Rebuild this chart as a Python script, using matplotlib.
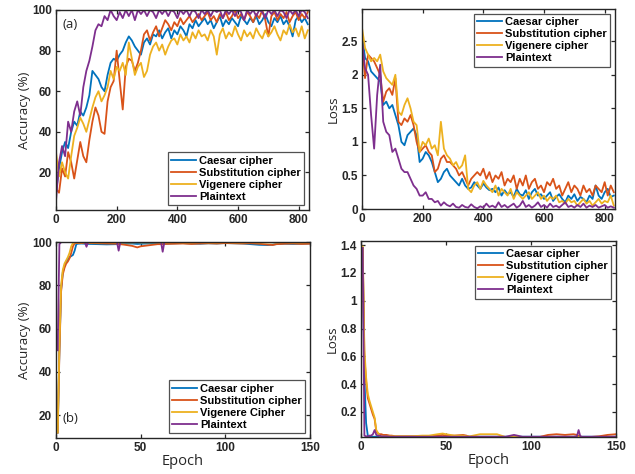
import numpy as np
import matplotlib
matplotlib.use("Agg")
import matplotlib.pyplot as plt
from matplotlib.ticker import FuncFormatter

# MATLAB default line colours
COLORS = ["#0072BD", "#D95319", "#EDB120", "#7E2F8E"]

# ---- (a) long training run, sampled every 10 epochs ----
epochs_a = list(range(0, 840, 10))

acc_caesar_a = [10, 22, 30, 35, 32, 40, 45, 43, 50, 48, 52, 58, 70, 68, 66, 62, 60, 68, 74, 76,
                75, 78, 80, 84, 87, 85, 82, 80, 78, 84, 86, 83, 88, 87, 90, 86, 89, 91, 86, 90,
                88, 92, 90, 87, 93, 91, 95, 92, 94, 96, 93, 95, 91, 94, 97, 92, 95, 93, 96, 94,
                92, 97, 95, 93, 96, 94, 97, 93, 95, 98, 94, 92, 96, 94, 97, 93, 95, 92, 87, 95,
                97, 94, 96, 93]
acc_subst_a = [12, 10, 22, 18, 30, 25, 17, 26, 35, 28, 25, 36, 45, 52, 48, 40, 39, 55, 62, 65,
               80, 65, 51, 72, 76, 75, 70, 74, 80, 88, 90, 85, 89, 92, 87, 91, 95, 93, 90, 94,
               92, 96, 93, 95, 97, 94, 96, 98, 95, 97, 99, 95, 97, 94, 98, 96, 99, 95, 97, 100,
               96, 98, 95, 99, 97, 94, 98, 96, 100, 95, 87, 97, 99, 95, 98, 96, 99, 94, 97, 99,
               95, 98, 96, 99]
acc_vig_a = [30, 18, 25, 20, 17, 28, 38, 42, 47, 44, 40, 46, 52, 57, 60, 55, 58, 62, 70, 66,
             72, 70, 74, 68, 84, 76, 68, 72, 74, 67, 70, 78, 82, 84, 80, 83, 78, 82, 85, 86,
             83, 88, 85, 87, 84, 89, 86, 90, 87, 88, 85, 90, 87, 78, 88, 91, 86, 89, 87, 92,
             88, 85, 90, 87, 89, 86, 91, 88, 86, 90, 87, 89, 92, 88, 85, 90, 88, 93, 89, 91,
             87, 92, 86, 90]
acc_plain_a = [6, 25, 33, 28, 45, 40, 50, 55, 48, 62, 70, 75, 82, 90, 93, 92, 97, 95, 100, 97,
               95, 99, 96, 100, 97, 100, 95, 100, 98, 100, 97, 100, 99, 96, 100, 98, 100, 97, 100, 99,
               96, 100, 98, 100, 97, 100, 99, 96, 100, 98, 100, 97, 100, 99, 100, 96, 100, 98, 100, 97,
               100, 99, 95, 100, 98, 100, 97, 100, 99, 96, 100, 98, 100, 97, 100, 99, 96, 100, 98, 100,
               97, 100, 99, 96]

loss_caesar_a = [2.6, 2.25, 2.2, 2.05, 2.0, 1.95, 1.9, 1.55, 1.6, 1.5, 1.55, 1.4, 1.25, 1.0, 0.95, 1.1,
                 1.15, 1.2, 1.1, 0.7, 0.75, 0.85, 0.8, 0.7, 0.55, 0.4, 0.45, 0.55, 0.6, 0.5, 0.45, 0.4,
                 0.35, 0.45, 0.35, 0.3, 0.32, 0.4, 0.35, 0.3, 0.38, 0.32, 0.28, 0.3, 0.25, 0.32, 0.2, 0.28,
                 0.22, 0.25, 0.18, 0.3, 0.22, 0.2, 0.28, 0.15, 0.25, 0.3, 0.2, 0.22, 0.15, 0.2, 0.25, 0.12,
                 0.18, 0.22, 0.15, 0.1, 0.2, 0.15, 0.22, 0.12, 0.18, 0.15, 0.1, 0.2, 0.15, 0.35, 0.2, 0.15,
                 0.25, 0.3, 0.18, 0.2]
loss_subst_a = [2.5, 1.95, 2.3, 2.25, 2.2, 2.1, 2.0, 1.6, 1.75, 1.8, 1.7, 1.95, 1.3, 1.25, 1.35, 1.3,
                1.4, 1.25, 1.0, 0.85, 0.9, 0.95, 0.85, 0.8, 0.55, 0.6, 0.75, 0.8, 0.7, 0.7, 0.65, 0.6,
                0.5, 0.55, 0.45, 0.35, 0.45, 0.5, 0.55, 0.5, 0.6, 0.45, 0.55, 0.4, 0.5, 0.45, 0.55, 0.35,
                0.45, 0.4, 0.5, 0.3, 0.45, 0.35, 0.5, 0.3, 0.4, 0.45, 0.3, 0.35, 0.25, 0.4, 0.35, 0.45,
                0.3, 0.35, 0.2, 0.3, 0.4, 0.25, 0.35, 0.3, 0.2, 0.35, 0.25, 0.3, 0.2, 0.35, 0.3, 0.25,
                0.4, 0.2, 0.35, 0.25]
loss_vig_a = [2.7, 2.4, 2.3, 2.2, 2.25, 2.2, 2.3, 2.05, 1.95, 1.9, 1.85, 2.0, 1.45, 1.4, 1.55, 1.65,
              1.5, 1.3, 1.25, 0.85, 1.0, 0.95, 1.05, 0.9, 0.95, 0.8, 1.3, 0.9, 0.8, 0.75, 0.65, 0.7,
              0.6, 0.65, 0.8, 0.3, 0.25, 0.35, 0.4, 0.3, 0.42, 0.35, 0.3, 0.25, 0.35, 0.2, 0.3, 0.25,
              0.2, 0.3, 0.15, 0.25, 0.2, 0.15, 0.2, 0.25, 0.15, 0.2, 0.25, 0.15, 0.2, 0.12, 0.18, 0.15,
              0.2, 0.1, 0.12, 0.08, 0.15, 0.1, 0.12, 0.05, 0.1, 0.15, 0.08, 0.12, 0.05, 0.1, 0.15, 0.08,
              0.12, 0.1, 0.2, 0.05]
loss_plain_a = [2.5, 2.1, 2.0, 1.4, 0.9, 1.7, 2.15, 1.3, 1.15, 1.1, 0.85, 0.9, 0.75, 0.6, 0.55, 0.55,
                0.45, 0.35, 0.3, 0.2, 0.2, 0.25, 0.15, 0.15, 0.1, 0.12, 0.05, 0.1, 0.06, 0.04, 0.08, 0.03,
                0.02, 0.06, 0.03, 0.02, 0.07, 0.03, 0.01, 0.04, 0.02, 0.08, 0.03, 0.05, 0.02, 0.1, 0.03, 0.06,
                0.02, 0.05, 0.08, 0.02, 0.05, 0.12, 0.03, 0.06, 0.02, 0.05, 0.1, 0.03, 0.06, 0.02, 0.08, 0.03,
                0.05, 0.02, 0.06, 0.1, 0.03, 0.05, 0.02, 0.06, 0.03, 0.08, 0.02, 0.05, 0.03, 0.06, 0.02, 0.04,
                0.06, 0.02, 0.04, 0.02]

# ---- (b) short training run ----
epochs_b = [1, 2, 3, 4, 5, 6, 7, 8, 9, 10, 11, 12, 13, 15, 17, 18, 19, 20, 25, 30,
            36, 37, 38, 40, 45, 48, 50, 55, 60, 62, 63, 64, 70, 75, 80, 85, 90, 95, 100, 105,
            110, 115, 120, 125, 127, 128, 129, 130, 135, 140, 145, 150]

acc_caesar_b = [12, 50, 78, 86, 89, 91, 92, 93, 93.5, 94, 96, 99, 99.2, 99.3, 99.2, 99.2, 99.1, 99.1, 99, 98.9,
                99, 99.1, 99.1, 99.2, 99.3, 99.1, 99.2, 99.3, 99.2, 99.1, 99.1, 99.2, 99.4, 99.5, 99.3, 99.2, 99.4, 99.3, 99.5, 99.4,
                99.3, 99, 98.7, 98.6, 98.7, 98.8, 98.9, 99, 99.2, 99.1, 99.2, 99.3]
acc_subst_b = [12, 48, 77, 85, 88, 90, 91, 92.5, 95, 98, 99.4, 99.5, 99.5, 99.5, 99.6, 99.6, 99.5, 99.5, 99.4, 99.3,
               99.2, 99, 99, 98.8, 98.2, 97.5, 98, 98.5, 99, 99, 99, 99.1, 99.2, 99.3, 99.1, 99.3, 99.4, 99.3, 99.5, 99.4,
               99.3, 99.4, 99.2, 98.8, 98.7, 98.6, 98.8, 99, 99.2, 99.3, 99.1, 99.2]
acc_vig_b = [12, 52, 80, 87, 90, 91.5, 93, 95, 98, 99.5, 99.8, 99.8, 99.8, 99.8, 99.9, 99.9, 99.8, 99.8, 99.8, 99.9,
             99.8, 99.8, 99.9, 99.8, 99.8, 99.9, 99.8, 99.8, 99.9, 99.8, 99.8, 99.8, 99.9, 99.8, 99.8, 99.9, 99.8, 99.8, 99.9, 99.8,
             99.8, 99.9, 99.8, 99.8, 99.8, 99.9, 99.8, 99.8, 99.9, 99.8, 99.8, 99.9]
acc_plain_b = [50, 99, 99.9, 100, 100, 100, 100, 100, 100, 100, 100, 100, 100, 100, 100, 97.8, 100, 100, 100, 100,
               100, 96, 100, 100, 100, 100, 100, 100, 100, 100, 95.5, 100, 100, 100, 100, 100, 100, 100, 100, 100,
               100, 100, 100, 100, 100, 100, 100, 100, 100, 100, 100, 100]

loss_caesar_b = [1.38, 0.45, 0.12, 0.03, 0.025, 0.022, 0.022, 0.022, 0.022, 0.022, 0.022, 0.022, 0.022, 0.022, 0.022, 0.022, 0.022, 0.022, 0.022, 0.022,
                 0.022, 0.022, 0.022, 0.022, 0.022, 0.022, 0.022, 0.022, 0.022, 0.022, 0.022, 0.022, 0.022, 0.022, 0.022, 0.022, 0.022, 0.022, 0.022, 0.022,
                 0.022, 0.022, 0.022, 0.022, 0.022, 0.022, 0.022, 0.022, 0.022, 0.022, 0.022, 0.022]
loss_subst_b = [1.38, 0.6, 0.42, 0.3, 0.26, 0.22, 0.18, 0.15, 0.06, 0.045, 0.04, 0.04, 0.035, 0.035, 0.03, 0.03, 0.028, 0.025, 0.025, 0.025,
                0.025, 0.025, 0.025, 0.025, 0.03, 0.035, 0.03, 0.03, 0.035, 0.03, 0.025, 0.02, 0.02, 0.02, 0.02, 0.02, 0.02, 0.02, 0.02, 0.02,
                0.035, 0.04, 0.035, 0.04, 0.035, 0.03, 0.025, 0.02, 0.02, 0.025, 0.035, 0.04]
loss_vig_b = [1.39, 0.65, 0.45, 0.33, 0.28, 0.24, 0.2, 0.16, 0.07, 0.05, 0.03, 0.025, 0.025, 0.025, 0.025, 0.025, 0.025, 0.025, 0.025, 0.025,
              0.03, 0.03, 0.03, 0.03, 0.04, 0.045, 0.04, 0.03, 0.03, 0.025, 0.025, 0.025, 0.04, 0.04, 0.04, 0.02, 0.02, 0.02, 0.02, 0.02,
              0.02, 0.02, 0.02, 0.02, 0.02, 0.02, 0.02, 0.02, 0.02, 0.02, 0.02, 0.02]
loss_plain_b = [1.38, 0.03, 0.025, 0.025, 0.03, 0.03, 0.04, 0.07, 0.035, 0.03, 0.03, 0.025, 0.025, 0.025, 0.022, 0.022, 0.022, 0.022, 0.022, 0.022,
                0.022, 0.022, 0.022, 0.022, 0.022, 0.022, 0.022, 0.022, 0.022, 0.022, 0.022, 0.022, 0.022, 0.022, 0.022, 0.022, 0.035, 0.022, 0.022, 0.022,
                0.022, 0.022, 0.022, 0.022, 0.025, 0.07, 0.025, 0.022, 0.022, 0.022, 0.022, 0.022]

labels_a = ["Caesar cipher", "Substitution cipher", "Vigenere cipher", "Plaintext"]
labels_b_acc = ["Caesar cipher", "Substitution cipher", "Vigenere Cipher", "Plaintext"]

# tick labels and legends in a bold sans; axis labels in a lighter face
plt.rcParams["font.family"] = ["Liberation Sans", "DejaVu Sans"]
plt.rcParams["font.weight"] = "bold"
LABEL_FAMILY = ["Open Sans", "DejaVu Sans"]

TICK_FONT = 8.5
LEGEND_FONT = 8


def style_axes(ax, xticks, yticks, xlim, ylim):
    ax.set_xlim(*xlim)
    ax.set_ylim(*ylim)
    ax.set_xticks(xticks)
    ax.set_yticks(yticks)
    ax.yaxis.set_major_formatter(FuncFormatter(lambda v, p: f"{v:g}"))
    ax.tick_params(direction="in", top=True, right=True, length=3, width=0.9,
                   labelsize=TICK_FONT, pad=3, colors="#262626")
    for sp in ax.spines.values():
        sp.set_linewidth(1.0)
        sp.set_color("#262626")


def draw_panel(ax, x, series, labels, legend_loc):
    for y, c, lab in zip(series, COLORS, labels):
        ax.plot(x, y, color=c, lw=1.3, label=lab)
    leg = ax.legend(loc=legend_loc, frameon=True, fancybox=False,
                    handlelength=2.2, handletextpad=0.3, labelspacing=0.18,
                    borderpad=0.3, borderaxespad=0.45,
                    prop={"weight": "bold", "size": LEGEND_FONT})
    leg.get_frame().set_edgecolor("#262626")
    leg.get_frame().set_linewidth(0.9)
    return leg


def main():
    fig = plt.figure(figsize=(6.35, 4.74), dpi=100)
    W, H = 635, 474

    def add(l, r, t, b):
        return fig.add_axes([l / W, 1 - b / H, (r - l) / W, (b - t) / H])

    ax_tl = add(56, 309, 10, 210)
    ax_tr = add(362, 615, 9, 209)
    ax_bl = add(56, 310, 242, 438)
    ax_br = add(361, 616, 241, 437)

    lab_kw = dict(fontsize=9.5, fontweight="normal", color="#262626", family=LABEL_FAMILY)
    ep_kw = dict(fontsize=10.5, fontweight="normal", color="#262626", family=LABEL_FAMILY)

    draw_panel(ax_tl, epochs_a, [acc_caesar_a, acc_subst_a, acc_vig_a, acc_plain_a],
               labels_a, "lower right")
    style_axes(ax_tl, [0, 200, 400, 600, 800], [20, 40, 60, 80, 100], (0, 834), (1.5, 100))
    ax_tl.set_ylabel("Accuracy (%)", labelpad=1, **lab_kw)
    ax_tl.text(20, 96, "(a)", va="top", ha="left", **lab_kw)

    draw_panel(ax_tr, epochs_a, [loss_caesar_a, loss_subst_a, loss_vig_a, loss_plain_a],
               labels_a, "upper right")
    style_axes(ax_tr, [0, 200, 400, 600, 800], [0, 0.5, 1, 1.5, 2, 2.5], (0, 834), (0, 2.98))
    ax_tr.set_ylabel("Loss", labelpad=1, **lab_kw)

    draw_panel(ax_bl, epochs_b, [acc_caesar_b, acc_subst_b, acc_vig_b, acc_plain_b],
               labels_b_acc, "lower right")
    style_axes(ax_bl, [0, 50, 100, 150], [20, 40, 60, 80, 100], (0, 150), (9.5, 100))
    ax_bl.set_ylabel("Accuracy (%)", labelpad=1, **lab_kw)
    ax_bl.set_xlabel("Epoch", labelpad=0, **ep_kw)
    ax_bl.text(4, 18.5, "(b)", va="center", ha="left", **lab_kw)

    draw_panel(ax_br, epochs_b, [loss_caesar_b, loss_subst_b, loss_vig_b, loss_plain_b],
               labels_a, "upper right")
    style_axes(ax_br, [0, 50, 100, 150], [0.2, 0.4, 0.6, 0.8, 1, 1.2, 1.4], (0, 150), (0.02, 1.43))
    ax_br.set_ylabel("Loss", labelpad=1, **lab_kw)
    ax_br.set_xlabel("Epoch", labelpad=0, **ep_kw)

    fig.savefig("out.png", dpi=100)


if __name__ == "__main__":
    main()
